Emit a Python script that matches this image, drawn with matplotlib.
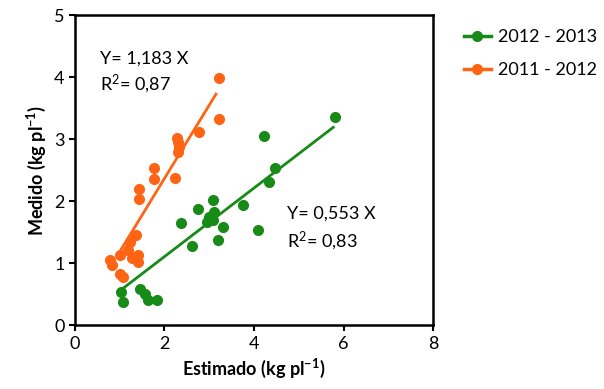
import numpy as np
import matplotlib
matplotlib.use("Agg")
import matplotlib.pyplot as plt

plt.rcParams['font.family'] = ['Lato', 'DejaVu Sans']
plt.rcParams['mathtext.fontset'] = 'custom'
plt.rcParams['mathtext.rm'] = 'Lato'
plt.rcParams['mathtext.bf'] = 'Lato:bold'
plt.rcParams['mathtext.default'] = 'regular'

# 2012 - 2013 (estimado, medido)
est_1213 = [1.04, 1.08, 1.45, 1.56, 1.64, 1.83, 2.38, 2.62, 2.76, 2.94, 3.09, 3.11,
            3.08, 3.31, 3.20, 3.00, 3.76, 4.10, 4.23, 4.47, 4.34, 5.81]
med_1213 = [0.54, 0.38, 0.59, 0.51, 0.40, 0.40, 1.65, 1.28, 1.88, 1.67, 2.02, 1.83,
            1.69, 1.59, 1.37, 1.75, 1.94, 1.53, 3.05, 2.53, 2.31, 3.36]

# 2011 - 2012
est_1112 = [3.22, 3.22, 2.78, 2.29, 2.31, 2.33, 2.31, 2.23, 1.77, 1.77, 1.43, 1.43,
            1.36, 1.23, 1.19, 1.41, 1.41, 0.78, 0.83, 1.01, 1.01, 1.08, 1.27]
med_1112 = [3.98, 3.33, 3.11, 3.02, 2.96, 2.88, 2.80, 2.37, 2.53, 2.35, 2.19, 2.04,
            1.45, 1.34, 1.21, 1.13, 1.02, 1.05, 0.97, 1.13, 0.83, 0.78, 1.08]

slope_1213 = 0.553
slope_1112 = 1.183
range_1213 = [1.1, 5.77]
range_1112 = [1.0, 3.15]

green = '#178a17'
orange = '#ff6414'

fig = plt.figure(figsize=(6.04, 3.89), dpi=100)
ax = fig.add_axes([0.124, 0.164, 0.593, 0.797])

xg = np.array(range_1213)
xo = np.array(range_1112)
ax.plot(xg, slope_1213 * xg, color=green, lw=2)
ax.plot(xo, slope_1112 * xo, color=orange, lw=2)
ax.plot(est_1213, med_1213, 'o', color=green, ms=8, mec='none')
ax.plot(est_1112, med_1112, 'o', color=orange, ms=8, mec='none')

# legend handles
ax.plot([], [], '-o', color=green, lw=2.5, ms=7, label='2012 - 2013')
ax.plot([], [], '-o', color=orange, lw=2.5, ms=7, label='2011 - 2012')
handles, labels = ax.get_legend_handles_labels()
leg = ax.legend(handles, labels, loc='upper left', bbox_to_anchor=(1.085, 0.955),
                frameon=False, fontsize=13, handlelength=1.5, handletextpad=0.4,
                labelspacing=0.95, borderaxespad=0, borderpad=0)

ax.text(0.56, 4.3, 'Y= 1,183 X', fontsize=13, va='center')
ax.text(0.56, 3.9, 'R$^2$= 0,87', fontsize=13, va='center')
ax.text(4.74, 1.8, 'Y= 0,553 X', fontsize=13, va='center')
ax.text(4.74, 1.37, 'R$^2$= 0,83', fontsize=13, va='center')

ax.set_xlim(0, 8)
ax.set_ylim(0, 5)
ax.set_xticks([0, 2, 4, 6, 8])
ax.set_yticks([0, 1, 2, 3, 4, 5])
ax.tick_params(direction='out', length=4, width=1.5, labelsize=13)
for s in ax.spines.values():
    s.set_linewidth(1.8)

ax.set_xlabel('Estimado (kg pl$^{\\mathbf{-1}}$)', fontsize=13, fontweight='bold')
ax.set_ylabel('Medido (kg pl$^{\\mathbf{-1}}$)', fontsize=13, fontweight='bold')

fig.savefig('out.png', dpi=100)
